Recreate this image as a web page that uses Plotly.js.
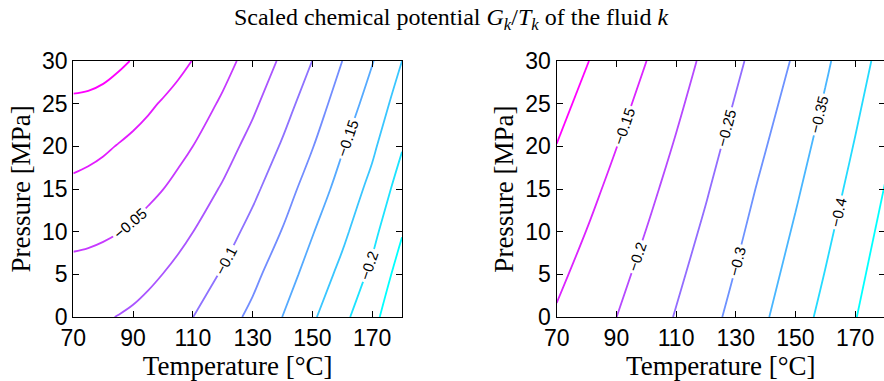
<!DOCTYPE html>
<html>
<head>
<meta charset="utf-8">
<script src="https://cdn.plot.ly/plotly-3.0.1.min.js"></script>
<style>
  html, body { margin: 0; padding: 0; overflow: hidden; background: #fff; }
  #chart { width: 886px; height: 381px; }
</style>
</head>
<body>
<div id="chart"></div>
<script>
// ---- Left panel: temperature columns [°C], pressure rows [MPa], G/T values ----
const temperatureLeft = [70, 75, 80, 85, 90, 95, 100, 105, 110, 120, 130, 140, 150, 160, 170, 180];
const pressureLeft = [0, 5, 10, 15, 20, 25, 30];
const gLeft = [
  [-0.0709, -0.0711, -0.0730, -0.0756, -0.0786, -0.0826, -0.0876, -0.0932, -0.0998, -0.1146, -0.1305, -0.1502, -0.1716, -0.1939, -0.2168, -0.2490],
  [-0.0572, -0.0580, -0.0598, -0.0625, -0.0660, -0.0703, -0.0752, -0.0808, -0.0873, -0.1022, -0.1190, -0.1382, -0.1602, -0.1813, -0.2051, -0.2361],
  [-0.0436, -0.0450, -0.0469, -0.0495, -0.0530, -0.0574, -0.0625, -0.0683, -0.0748, -0.0898, -0.1070, -0.1261, -0.1486, -0.1697, -0.1934, -0.2233],
  [-0.0299, -0.0322, -0.0347, -0.0377, -0.0411, -0.0451, -0.0498, -0.0558, -0.0624, -0.0773, -0.0949, -0.1142, -0.1363, -0.1590, -0.1819, -0.2108],
  [-0.0165, -0.0187, -0.0220, -0.0259, -0.0297, -0.0335, -0.0382, -0.0436, -0.0500, -0.0653, -0.0826, -0.1024, -0.1240, -0.1481, -0.1706, -0.1984],
  [-0.0032, -0.0043, -0.0071, -0.0115, -0.0166, -0.0217, -0.0268, -0.0317, -0.0376, -0.0534, -0.0707, -0.0906, -0.1121, -0.1366, -0.1596, -0.1867],
  [ 0.0105,  0.0100,  0.0082,  0.0040, -0.0012, -0.0070, -0.0132, -0.0195, -0.0255, -0.0416, -0.0595, -0.0788, -0.1002, -0.1250, -0.1486, -0.1750]
];
const leftLabeledLevels = [-0.2, -0.15, -0.1, -0.05, 0];
const leftPlainLevels = [-0.225, -0.175, -0.125, -0.075, -0.025];

// ---- Right panel ----
const temperatureRight = [70, 80, 90, 100, 110, 120, 130, 140, 150, 160, 170, 180];
const pressureRight = [0, 15, 30];
const gRight = [
  [-0.1545, -0.1771, -0.1998, -0.2261, -0.2527, -0.2830, -0.3140, -0.3459, -0.3792, -0.4132, -0.4479, -0.4851],
  [-0.1136, -0.1374, -0.1622, -0.1881, -0.2160, -0.2456, -0.2783, -0.3113, -0.3435, -0.3782, -0.4142, -0.4516],
  [-0.0751, -0.0979, -0.1237, -0.1497, -0.1793, -0.2094, -0.2406, -0.2729, -0.3062, -0.3427, -0.3796, -0.4173]
];
const rightLevels = [-0.45, -0.4, -0.35, -0.3, -0.25, -0.2, -0.15, -0.1];

// ---- Axis ticks and texts ----
const xTicks = [70, 90, 110, 130, 150, 170];
const yTicks = [0, 5, 10, 15, 20, 25, 30];
const titleText = 'Scaled chemical potential <i>G</i><sub><i>k</i></sub>/<i>T</i><sub><i>k</i></sub> of the fluid <i>k</i>';
const xTitle = 'Temperature [°C]';
const yTitle = 'Pressure [MPa]';

// MATLAB "cool" colormap (cyan -> magenta)
function cool(t) {
  return 'rgb(' + Math.round(255 * t) + ',' + Math.round(255 * (1 - t)) + ',255)';
}
function levelSpec(levels) {
  const lo = Math.min(...levels), hi = Math.max(...levels);
  return { start: lo, end: hi, size: (hi - lo) / (levels.length - 1) };
}
function subScale(levels, gmin, gmax) {
  const lo = Math.min(...levels), hi = Math.max(...levels);
  return [[0, cool((lo - gmin) / (gmax - gmin))], [1, cool((hi - gmin) / (gmax - gmin))]];
}

const labelFont = { family: 'Liberation Sans, Arial, sans-serif', size: 15, color: '#000' };
const lineW = 1.8;

const leftAll = leftLabeledLevels.concat(leftPlainLevels);
const lmin = Math.min(...leftAll), lmax = Math.max(...leftAll);

const traces = [
  {
    type: 'contour', x: temperatureLeft, y: pressureLeft, z: gLeft,
    xaxis: 'x', yaxis: 'y', autocontour: false,
    contours: Object.assign({ coloring: 'lines', showlabels: true, labelfont: labelFont, labelformat: '.2~f' }, levelSpec(leftLabeledLevels)),
    colorscale: subScale(leftLabeledLevels, lmin, lmax),
    showscale: false, line: { width: lineW, smoothing: 1.1 }, hoverinfo: 'skip'
  },
  {
    type: 'contour', x: temperatureLeft, y: pressureLeft, z: gLeft,
    xaxis: 'x', yaxis: 'y', autocontour: false,
    contours: Object.assign({ coloring: 'lines', showlabels: false }, levelSpec(leftPlainLevels)),
    colorscale: subScale(leftPlainLevels, lmin, lmax),
    showscale: false, line: { width: lineW, smoothing: 1.1 }, hoverinfo: 'skip'
  },
  {
    type: 'contour', x: temperatureRight, y: pressureRight, z: gRight,
    xaxis: 'x2', yaxis: 'y2', autocontour: false,
    contours: Object.assign({ coloring: 'lines', showlabels: true, labelfont: labelFont, labelformat: '.2~f' }, levelSpec(rightLevels)),
    colorscale: [[0, cool(0)], [1, cool(1)]],
    showscale: false, line: { width: lineW, smoothing: 1.1 }, hoverinfo: 'skip'
  }
];

const tickFont = { family: 'Liberation Sans, Arial, sans-serif', size: 23, color: '#000' };
const axTitleFont = { family: 'Liberation Serif, Times New Roman, serif', size: 27, color: '#000' };

function xAxis(domain, anchor) {
  return {
    domain: domain, anchor: anchor, range: [70, 180],
    tickmode: 'array', tickvals: xTicks, ticktext: xTicks.map(String),
    ticks: 'inside', ticklen: 6, tickwidth: 1, tickcolor: '#000',
    showline: true, linecolor: '#000', linewidth: 1.2, mirror: 'ticks',
    showgrid: false, zeroline: false, tickfont: tickFont,
    title: { text: xTitle, font: axTitleFont, standoff: 1 },
    automargin: false, fixedrange: true
  };
}
function yAxis(domain, anchor) {
  return {
    domain: domain, anchor: anchor, range: [0, 30],
    tickmode: 'array', tickvals: yTicks, ticktext: yTicks.map(String),
    ticks: 'inside', ticklen: 6, tickwidth: 1, tickcolor: '#000',
    showline: true, linecolor: '#000', linewidth: 1.2, mirror: 'ticks',
    showgrid: false, zeroline: false, tickfont: tickFont,
    title: { text: yTitle, font: axTitleFont, standoff: 3 },
    automargin: false, fixedrange: true
  };
}

const W = 886, H = 381;
const yDom = [(H - 317) / H, (H - 61) / H];

const layout = {
  width: W, height: H,
  margin: { l: 0, r: 0, t: 0, b: 0 },
  paper_bgcolor: '#fff', plot_bgcolor: '#fff',
  showlegend: false,
  title: {
    text: titleText,
    font: { family: 'Liberation Serif, Times New Roman, serif', size: 24, color: '#000' },
    x: 451 / W, xanchor: 'center', xref: 'container',
    y: 1 - 17 / H, yanchor: 'middle', yref: 'container'
  },
  xaxis: xAxis([73.3 / W, 402 / W], 'y'),
  yaxis: yAxis(yDom, 'x'),
  xaxis2: xAxis([556.7 / W, 885 / W], 'y2'),
  yaxis2: yAxis(yDom, 'x2')
};

Plotly.newPlot('chart', traces, layout, { displayModeBar: false, staticPlot: true });
</script>
</body>
</html>
